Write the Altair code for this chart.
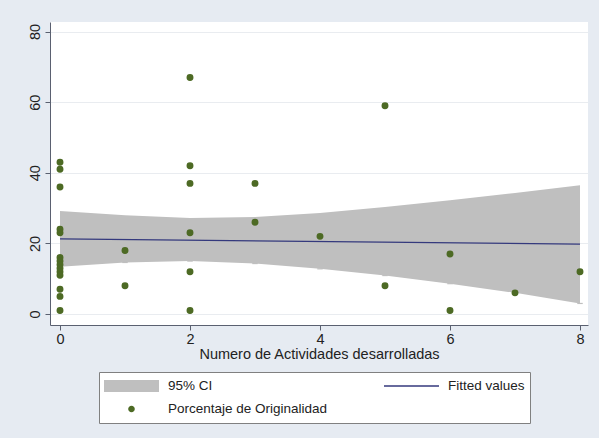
import altair as alt
import pandas as pd

# Scatter: number of activities vs. originality percentage
act = [0] * 14 + [1, 1] + [2] * 6 + [3, 3, 4, 5, 5, 6, 6, 7, 8]
orig = [43, 41, 36, 24, 23, 16, 15, 14, 13, 12, 11, 7, 5, 1,
        18, 8,
        67, 42, 37, 23, 12, 1,
        37, 26, 22, 59, 8, 17, 1, 6, 12]

# Linear fit and its 95% confidence band
band_x = [0, 1, 2, 3, 4, 5, 6, 7, 8]
band_lo = [13.4, 14.6, 15.0, 14.3, 12.8, 10.9, 8.6, 6.0, 3.0]
band_hi = [29.2, 28.0, 27.2, 27.5, 28.6, 30.3, 32.2, 34.3, 36.5]
fit_x = [0, 8]
fit_y = [21.3, 19.8]

# Legend entries (filled column by column: two rows)
legend_labels = ["95% CI", "Porcentaje de Originalidad", "Fitted values"]
legend_colors = ["#bfbfbf", "#4d6a24", "#34397d"]
legend_shapes = [
    "M-1,-0.22H1V0.22H-1Z",
    "M0.12,0A0.12,0.12 0 1,1 -0.12,0A0.12,0.12 0 1,1 0.12,0Z",
    "M-1,-0.025H1V0.025H-1Z",
]

pts = pd.DataFrame({"x": act, "y": orig, "serie": legend_labels[1]})
band = pd.DataFrame({"x": band_x, "lo": band_lo, "hi": band_hi, "serie": legend_labels[0]})
fit = pd.DataFrame({"x": fit_x, "y": fit_y, "serie": legend_labels[2]})

FONT = "Liberation Sans"
TXT = "#222222"
AXC = "#5a6070"
xscale = alt.Scale(domain=[-0.154, 8.123], nice=False, zero=False)
yscale = alt.Scale(domain=[-3.1, 82.7], nice=False, zero=False)

color = alt.Color(
    "serie:N",
    scale=alt.Scale(domain=legend_labels, range=legend_colors),
    legend=alt.Legend(
        title=None,
        orient="none",
        legendX=49,
        legendY=350,
        columns=2,
        columnPadding=56,
        rowPadding=5,
        clipHeight=18,
        symbolSize=3025,
        symbolStrokeWidth=0,
        labelOffset=9,
        labelFont=FONT,
        labelFontSize=13.5,
        labelColor=TXT,
        fillColor="white",
        strokeColor="#808080",
        padding=5,
        cornerRadius=0,
    ),
)
shape = alt.Shape(
    "serie:N",
    scale=alt.Scale(domain=legend_labels, range=legend_shapes),
    legend=None,
)

xaxis = alt.Axis(
    title="Numero de Actividades desarrolladas",
    values=[0, 2, 4, 6, 8],
    format="d",
    grid=False,
    titleFont=FONT, titleFontSize=14.5, titleFontWeight="normal", titleColor=TXT,
    titlePadding=2,
    labelFont=FONT, labelFontSize=14.5, labelColor=TXT, labelPadding=2,
    tickSize=5, tickColor=AXC, domainColor=AXC,
)
yaxis = alt.Axis(
    title=None,
    values=[0, 20, 40, 60, 80],
    format="d",
    grid=True, gridColor="#e9ecf0",
    labelFont=FONT, labelFontSize=14.5, labelColor=TXT,
    labelAngle=270, labelAlign="center", labelBaseline="bottom", labelPadding=3,
    tickSize=5, tickColor=AXC, domainColor=AXC,
)

area = alt.Chart(band).mark_area(opacity=1).encode(
    x=alt.X("x:Q", scale=xscale, axis=xaxis),
    y=alt.Y("lo:Q", scale=yscale, axis=yaxis),
    y2="hi:Q",
    color=color,
    shape=shape,
)
line = alt.Chart(fit).mark_line(strokeWidth=1.3).encode(
    x=alt.X("x:Q", scale=xscale),
    y=alt.Y("y:Q", scale=yscale),
    color=color,
)
dots = alt.Chart(pts).mark_point(filled=True, size=48, opacity=1, shape="circle").encode(
    x=alt.X("x:Q", scale=xscale),
    y=alt.Y("y:Q", scale=yscale),
    color=color,
)

chart = (
    alt.layer(area, line, dots)
    .properties(
        width=538,
        height=303,
        autosize=alt.AutoSizeParams(type="none"),
        padding={"left": 50, "top": 22, "right": 11, "bottom": 113},
        background="#e6ebf2",
    )
    .configure_view(fill="white", stroke=None)
)

chart.save("out.html", embed_options={"renderer": "svg", "actions": False})
